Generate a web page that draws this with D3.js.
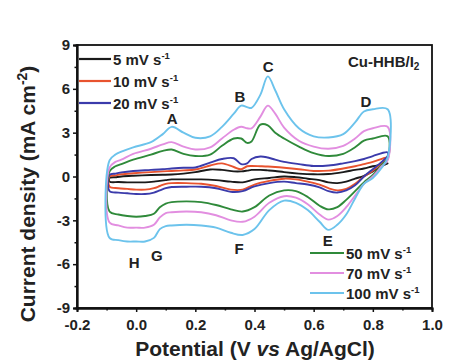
<!DOCTYPE html>
<html>
<head>
<meta charset="utf-8">
<script src="https://cdn.jsdelivr.net/npm/d3@7"></script>
<style>
  body { margin: 0; background: #fff; }
  svg { display: block; }
  text { font-family: "Liberation Sans", Arial, sans-serif; font-weight: bold; }
</style>
</head>
<body>
<svg id="chart" width="449" height="364"></svg>
<script>
// ---------- data ----------
const anodicPotential = [-0.09, -0.07, -0.05, -0.01, 0.05, 0.09, 0.12, 0.16, 0.2, 0.25, 0.29, 0.33, 0.355, 0.375, 0.39, 0.42, 0.445, 0.47, 0.5, 0.55, 0.6, 0.65, 0.7, 0.74, 0.77, 0.8, 0.85];
const cathodicPotential = [0.85, 0.83, 0.8, 0.77, 0.74, 0.71, 0.68, 0.65, 0.62, 0.58, 0.54, 0.5, 0.45, 0.4, 0.36, 0.32, 0.27, 0.22, 0.17, 0.12, 0.1, 0.08, 0.06, 0.03, 0.0, -0.03, -0.06, -0.09];

const scanRates = ["5 mV s", "10 mV s", "20 mV s", "50 mV s", "70 mV s", "100 mV s"];
const seriesColors = ["#1a1a1a", "#e8532f", "#3b3bab", "#2f8a3a", "#e28ee0", "#6cc3ec"];

const anodic5   = [-0.1, -0.05, 0.0, 0.05, 0.1, 0.12, 0.14, 0.2, 0.3, 0.48, 0.45, 0.35, 0.35, 0.4, 0.45, 0.45, 0.42, 0.38, 0.3, 0.2, 0.15, 0.17, 0.3, 0.45, 0.55, 0.7, 0.9];
const anodic10  = [0.0, 0.08, 0.15, 0.22, 0.3, 0.35, 0.38, 0.42, 0.48, 0.75, 0.9, 0.65, 0.5, 0.7, 0.72, 0.7, 0.68, 0.65, 0.6, 0.5, 0.38, 0.4, 0.55, 0.7, 0.85, 1.0, 1.3];
const anodic20  = [0.1, 0.2, 0.28, 0.38, 0.45, 0.5, 0.55, 0.6, 0.62, 0.95, 1.2, 1.25, 0.85, 0.9, 1.2, 1.37, 1.3, 1.15, 1.0, 0.85, 0.72, 0.75, 0.9, 1.05, 1.2, 1.4, 1.65];
const anodic50  = [0.35, 0.7, 0.85, 1.15, 1.5, 1.75, 1.85, 1.55, 1.4, 1.5, 2.1, 2.6, 2.6, 2.3, 2.4, 3.55, 3.5, 3.0, 2.6, 2.05, 1.6, 1.4, 1.55, 2.0, 2.45, 2.6, 2.75];
const anodic70  = [0.6, 1.0, 1.15, 1.55, 1.9, 2.2, 2.35, 2.05, 1.85, 2.0, 2.6, 3.2, 3.4, 3.3, 3.3, 4.1, 4.85, 4.3, 3.35, 2.45, 2.05, 1.9, 2.1, 2.6, 3.1, 3.3, 3.4];
const anodic100 = [1.1, 1.5, 1.7, 2.0, 2.35, 2.9, 3.4, 3.0, 2.65, 2.75, 3.4, 4.3, 4.85, 4.75, 4.7, 5.6, 6.85, 5.9, 4.6, 3.3, 2.75, 2.67, 2.9, 3.7, 4.45, 4.6, 4.6];

const cathodic5   = [0.9, 0.7, 0.35, 0.05, -0.15, -0.35, -0.45, -0.4, -0.25, -0.15, -0.05, 0.0, -0.1, -0.2, -0.4, -0.35, -0.25, -0.2, -0.2, -0.2, -0.25, -0.3, -0.35, -0.4, -0.4, -0.4, -0.38, -0.35];
const cathodic10  = [1.2, 0.9, 0.4, 0.0, -0.5, -0.85, -0.95, -0.8, -0.55, -0.35, -0.2, -0.15, -0.3, -0.55, -0.9, -0.9, -0.65, -0.5, -0.45, -0.45, -0.5, -0.65, -0.8, -0.9, -0.9, -0.85, -0.8, -0.7];
const cathodic20  = [1.4, 1.0, 0.5, 0.0, -0.6, -0.95, -1.1, -1.0, -0.75, -0.55, -0.45, -0.35, -0.45, -0.68, -1.0, -1.05, -0.8, -0.7, -0.7, -0.72, -0.8, -0.95, -1.1, -1.2, -1.2, -1.15, -1.1, -1.0];
const cathodic50  = [1.2, 0.8, 0.1, -0.4, -1.0, -1.6, -2.1, -2.25, -2.0, -1.4, -1.0, -0.95, -1.3, -2.1, -2.4, -2.25, -1.95, -1.75, -1.7, -1.75, -1.85, -2.1, -2.55, -2.7, -2.75, -2.7, -2.6, -2.4];
const cathodic70  = [1.1, 0.7, 0.0, -0.5, -1.3, -2.1, -2.7, -2.95, -2.6, -1.9, -1.45, -1.35, -1.8, -2.75, -3.1, -3.0, -2.65, -2.45, -2.4, -2.45, -2.5, -2.8, -3.3, -3.5, -3.5, -3.5, -3.35, -3.15];
const cathodic100 = [1.3, 0.6, -0.1, -0.5, -1.5, -2.6, -3.3, -3.65, -3.1, -2.3, -1.8, -1.65, -2.3, -3.6, -4.0, -3.85, -3.5, -3.35, -3.3, -3.35, -3.4, -3.6, -4.2, -4.45, -4.45, -4.45, -4.35, -4.2];

const anodicSeries = [anodic5, anodic10, anodic20, anodic50, anodic70, anodic100];
const cathodicSeries = [cathodic5, cathodic10, cathodic20, cathodic50, cathodic70, cathodic100];

const peakLabels = ["A", "B", "C", "D", "E", "F", "G", "H"];
const peakPotential = [0.122, 0.351, 0.446, 0.777, 0.648, 0.348, 0.07, -0.007];
const peakCurrent = [3.56, 5.13, 7.12, 4.79, -4.79, -5.27, -5.75, -6.23];

const xTicks = [-0.2, 0.0, 0.2, 0.4, 0.6, 0.8, 1.0];
const xMinorTicks = [-0.1, 0.1, 0.3, 0.5, 0.7, 0.9];
const yTicks = [-9, -6, -3, 0, 3, 6, 9];
const yMinorTicks = [-7.5, -4.5, -1.5, 1.5, 4.5, 7.5];

// ---------- chart ----------
const svg = d3.select("#chart");
const x = d3.scaleLinear().domain([-0.2, 1.0]).range([77, 432]);
const y = d3.scaleLinear().domain([-9, 9]).range([308, 45]);

const fmtX = d => d3.format(".1f")(d).replace("\u2212", "-");
const fmtY = d => String(d);

// curves
const line = d3.line().x(d => x(d[0])).y(d => y(d[1])).curve(d3.curveCatmullRomClosed.alpha(0.5));
const curves = svg.append("g");
scanRates.forEach((r, i) => {
  const pts = anodicPotential.map((e, k) => [e, anodicSeries[i][k]])
    .concat(cathodicPotential.map((e, k) => [e, cathodicSeries[i][k]]));
  curves.append("path")
    .attr("d", line(pts))
    .attr("fill", "none")
    .attr("stroke", seriesColors[i])
    .attr("stroke-width", 1.9)
    .attr("stroke-linejoin", "round");
});

// frame
svg.append("rect")
  .attr("x", x(-0.2)).attr("y", y(9))
  .attr("width", x(1.0) - x(-0.2)).attr("height", y(-9) - y(9))
  .attr("fill", "none").attr("stroke", "#111").attr("stroke-width", 1.8);

// axes
const xAxis = svg.append("g").attr("transform", `translate(0,${y(-9)})`)
  .call(d3.axisBottom(x).tickValues(xTicks).tickFormat(fmtX).tickSize(4).tickPadding(7));
const xMinor = svg.append("g").attr("transform", `translate(0,${y(-9)})`)
  .call(d3.axisBottom(x).tickValues(xMinorTicks).tickFormat("").tickSize(2.5));
const yAxis = svg.append("g").attr("transform", `translate(${x(-0.2)},0)`)
  .call(d3.axisLeft(y).tickValues(yTicks).tickFormat(fmtY).tickSize(4).tickPadding(3));
const yMinor = svg.append("g").attr("transform", `translate(${x(-0.2)},0)`)
  .call(d3.axisLeft(y).tickValues(yMinorTicks).tickFormat("").tickSize(2.5));
[xAxis, xMinor, yAxis, yMinor].forEach(g => {
  g.select(".domain").attr("stroke", "#111").attr("stroke-width", 1.8);
  g.selectAll(".tick line").attr("stroke", "#111").attr("stroke-width", 1.5);
  g.selectAll(".tick text").attr("fill", "#222").style("font-size", "15px")
    .style("font-family", "'Liberation Sans', Arial, sans-serif").style("font-weight", "bold");
});

// axis titles
const xt = svg.append("text").attr("x", 255).attr("y", 356).attr("text-anchor", "middle")
  .style("font-size", "21px").attr("fill", "#222");
xt.append("tspan").text("Potential (V ");
xt.append("tspan").style("font-style", "italic").text("vs");
xt.append("tspan").text(" Ag/AgCl)");

const yt = svg.append("text").attr("transform", "translate(35,194) rotate(-90)")
  .attr("text-anchor", "middle").style("font-size", "21px").attr("fill", "#222");
yt.append("tspan").text("Current density (mA cm");
yt.append("tspan").attr("dy", -8).style("font-size", "14px").text("-2");
yt.append("tspan").attr("dy", 8).text(")");

// sample label
const st = svg.append("text").attr("x", 348).attr("y", 67).style("font-size", "15px").attr("fill", "#222");
st.append("tspan").text("Cu-HHB/I");
st.append("tspan").attr("dy", 3).style("font-size", "10px").text("2");

// peak labels
peakLabels.forEach((p, i) => {
  svg.append("text").attr("x", x(peakPotential[i])).attr("y", y(peakCurrent[i]))
    .attr("text-anchor", "middle").style("font-size", "15px").attr("fill", "#222").text(p);
});

// legends
function legendItem(i, lx, ly, tx) {
  svg.append("line").attr("x1", lx).attr("x2", tx - 2).attr("y1", ly).attr("y2", ly)
    .attr("stroke", seriesColors[i]).attr("stroke-width", 2.2);
  const t = svg.append("text").attr("x", tx).attr("y", ly + 5.5).style("font-size", "15px").attr("fill", "#222");
  t.append("tspan").text(scanRates[i]);
  t.append("tspan").attr("dy", -6).style("font-size", "9.5px").text("-1");
}
[0, 1, 2].forEach((i, k) => legendItem(i, 79, 59 + k * 22, 113));
[3, 4, 5].forEach((i, k) => legendItem(i, 310, 253 + k * 20, 346));
</script>
</body>
</html>
